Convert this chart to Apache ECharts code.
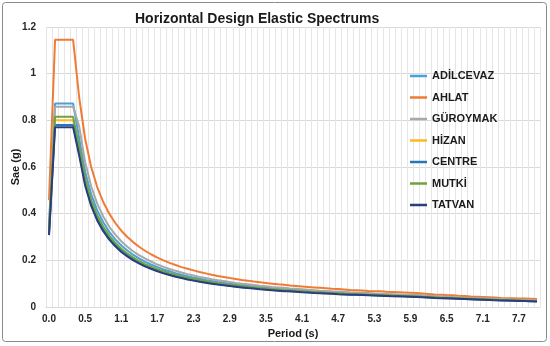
<!DOCTYPE html>
<html>
<head>
<meta charset="utf-8">
<script src="https://cdn.jsdelivr.net/npm/echarts@6.0.0/dist/echarts.min.js"></script>
<style>
html,body{margin:0;padding:0;background:#fff;}
#chart{width:550px;height:346px;}
</style>
</head>
<body>
<div id="chart"></div>
<script>
// Period categories (s)
var periods = ["0.0","0.06","0.1","0.2","0.3","0.4","0.5","0.6","0.7","0.8","0.9","1.0","1.1","1.2","1.3","1.4","1.5","1.6","1.7","1.8","1.9","2.0","2.1","2.2","2.3","2.4","2.5","2.6","2.7","2.8","2.9","3.0","3.1","3.2","3.3","3.4","3.5","3.6","3.7","3.8","3.9","4.0","4.1","4.2","4.3","4.4","4.5","4.6","4.7","4.8","4.9","5.0","5.1","5.2","5.3","5.4","5.5","5.6","5.7","5.8","5.9","6.0","6.1","6.2","6.3","6.4","6.5","6.6","6.7","6.8","6.9","7.0","7.1","7.2","7.3","7.4","7.5","7.6","7.7","7.8","7.9","8.0"];

var seriesNames = ["ADİLCEVAZ","AHLAT","GÜROYMAK","HİZAN","CENTRE","MUTKİ","TATVAN"];
var seriesColors = ["#47A2DA","#F07B35","#A8A8A8","#FDBA1E","#2676B8","#6FA23F","#2A3E7E"];

var adilcevaz = [0.349,0.872,0.872,0.872,0.872,0.725,0.580,0.483,0.414,0.363,0.322,0.290,0.264,0.242,0.223,0.207,0.193,0.181,0.171,0.161,0.153,0.145,0.138,0.132,0.126,0.121,0.116,0.112,0.107,0.104,0.100,0.097,0.094,0.091,0.088,0.085,0.083,0.081,0.078,0.076,0.074,0.073,0.071,0.069,0.067,0.066,0.064,0.063,0.062,0.060,0.059,0.058,0.057,0.056,0.055,0.054,0.053,0.052,0.051,0.050,0.049,0.048,0.047,0.045,0.044,0.042,0.041,0.040,0.039,0.038,0.037,0.036,0.035,0.034,0.033,0.032,0.031,0.030,0.029,0.029,0.028,0.027];
var ahlat = [0.458,1.145,1.145,1.145,1.145,0.900,0.720,0.600,0.514,0.450,0.400,0.360,0.327,0.300,0.277,0.257,0.240,0.225,0.212,0.200,0.189,0.180,0.171,0.164,0.157,0.150,0.144,0.138,0.133,0.129,0.124,0.120,0.116,0.113,0.109,0.106,0.103,0.100,0.097,0.095,0.092,0.090,0.088,0.086,0.084,0.082,0.080,0.078,0.077,0.075,0.073,0.072,0.071,0.069,0.068,0.067,0.065,0.064,0.063,0.062,0.061,0.060,0.058,0.056,0.054,0.053,0.051,0.050,0.048,0.047,0.045,0.044,0.043,0.042,0.041,0.039,0.038,0.037,0.036,0.036,0.035,0.034];
var guroymak = [0.343,0.858,0.858,0.858,0.858,0.775,0.620,0.517,0.443,0.388,0.344,0.310,0.282,0.258,0.238,0.221,0.207,0.194,0.182,0.172,0.163,0.155,0.148,0.141,0.135,0.129,0.124,0.119,0.115,0.111,0.107,0.103,0.100,0.097,0.094,0.091,0.089,0.086,0.084,0.082,0.079,0.078,0.076,0.074,0.072,0.070,0.069,0.067,0.066,0.065,0.063,0.062,0.061,0.060,0.058,0.057,0.056,0.055,0.054,0.053,0.053,0.052,0.050,0.048,0.047,0.045,0.044,0.043,0.041,0.040,0.039,0.038,0.037,0.036,0.035,0.034,0.033,0.032,0.031,0.031,0.030,0.029];
var hizan = [0.320,0.800,0.800,0.800,0.800,0.675,0.540,0.450,0.386,0.338,0.300,0.270,0.245,0.225,0.208,0.193,0.180,0.169,0.159,0.150,0.142,0.135,0.129,0.123,0.117,0.113,0.108,0.104,0.100,0.096,0.093,0.090,0.087,0.084,0.082,0.079,0.077,0.075,0.073,0.071,0.069,0.068,0.066,0.064,0.063,0.061,0.060,0.059,0.057,0.056,0.055,0.054,0.053,0.052,0.051,0.050,0.049,0.048,0.047,0.047,0.046,0.045,0.044,0.042,0.041,0.040,0.038,0.037,0.036,0.035,0.034,0.033,0.032,0.031,0.030,0.030,0.029,0.028,0.027,0.027,0.026,0.025];
var centre = [0.312,0.780,0.780,0.780,0.780,0.663,0.530,0.442,0.379,0.331,0.294,0.265,0.241,0.221,0.204,0.189,0.177,0.166,0.156,0.147,0.139,0.133,0.126,0.120,0.115,0.110,0.106,0.102,0.098,0.095,0.091,0.088,0.085,0.083,0.080,0.078,0.076,0.074,0.072,0.070,0.068,0.066,0.065,0.063,0.062,0.060,0.059,0.058,0.056,0.055,0.054,0.053,0.052,0.051,0.050,0.049,0.048,0.047,0.046,0.046,0.045,0.044,0.043,0.041,0.040,0.039,0.038,0.037,0.035,0.034,0.033,0.032,0.032,0.031,0.030,0.029,0.028,0.028,0.027,0.026,0.025,0.025];
var mutki = [0.326,0.815,0.815,0.815,0.815,0.688,0.550,0.458,0.393,0.344,0.306,0.275,0.250,0.229,0.212,0.196,0.183,0.172,0.162,0.153,0.145,0.138,0.131,0.125,0.120,0.115,0.110,0.106,0.102,0.098,0.095,0.092,0.089,0.086,0.083,0.081,0.079,0.076,0.074,0.072,0.071,0.069,0.067,0.065,0.064,0.063,0.061,0.060,0.059,0.057,0.056,0.055,0.054,0.053,0.052,0.051,0.050,0.049,0.048,0.047,0.047,0.046,0.044,0.043,0.042,0.040,0.039,0.038,0.037,0.036,0.035,0.034,0.033,0.032,0.031,0.030,0.029,0.029,0.028,0.027,0.026,0.026];
var tatvan = [0.308,0.770,0.770,0.770,0.770,0.650,0.520,0.433,0.371,0.325,0.289,0.260,0.236,0.217,0.200,0.186,0.173,0.163,0.153,0.144,0.137,0.130,0.124,0.118,0.113,0.108,0.104,0.100,0.096,0.093,0.090,0.087,0.084,0.081,0.079,0.076,0.074,0.072,0.070,0.068,0.067,0.065,0.063,0.062,0.060,0.059,0.058,0.057,0.055,0.054,0.053,0.052,0.051,0.050,0.049,0.048,0.047,0.046,0.046,0.045,0.044,0.043,0.042,0.041,0.039,0.038,0.037,0.036,0.035,0.034,0.033,0.032,0.031,0.030,0.029,0.028,0.028,0.027,0.026,0.026,0.025,0.024];

var allValues = [adilcevaz, ahlat, guroymak, hizan, centre, mutki, tatvan];

var FONT = "'Liberation Sans', Arial, sans-serif";
var chart = echarts.init(document.getElementById('chart'), null, {renderer: 'canvas'});

var series = seriesNames.map(function (n, i) {
  return {
    name: n,
    type: 'line',
    data: allValues[i],
    symbol: 'none',
    smooth: false,
    lineStyle: {width: 2, color: seriesColors[i]},
    itemStyle: {color: seriesColors[i]},
    z: 2 + i
  };
});

chart.setOption({
  animation: false,
  backgroundColor: '#ffffff',
  title: {
    text: 'Horizontal Design Elastic Spectrums',
    left: 130,
    top: 7,
    textStyle: {fontFamily: FONT, fontSize: 14, fontWeight: 'bold', color: '#1a1a1a'}
  },
  graphic: [{
    type: 'rect',
    shape: {x: 2.5, y: 2.5, width: 544, height: 339, r: 3},
    style: {fill: 'none', stroke: '#8a8a8a', lineWidth: 1},
    silent: true,
    z: 100
  }],
  legend: {
    orient: 'vertical',
    left: 405,
    top: 64,
    icon: 'rect',
    itemWidth: 17,
    itemHeight: 2.5,
    itemGap: 7.5,
    textStyle: {fontFamily: FONT, fontSize: 11, fontWeight: 'bold', color: '#1a1a1a', lineHeight: 14},
    data: seriesNames
  },
  grid: {left: 46, right: 10, top: 27, bottom: 39, containLabel: false, outerBoundsMode: 'none'},
  xAxis: {
    type: 'category',
    data: periods,
    boundaryGap: true,
    name: 'Period (s)',
    nameLocation: 'middle',
    nameGap: 21,
    nameMoveOverlap: false,
    nameTextStyle: {fontFamily: FONT, fontSize: 11, fontWeight: 'bold', color: '#1a1a1a'},
    axisLine: {show: true, lineStyle: {color: '#d9d9d9'}},
    axisTick: {show: false},
    axisLabel: {interval: 5, fontFamily: FONT, fontSize: 10, fontWeight: 'bold', color: '#262626', margin: 7},
    splitLine: {show: true, interval: 0, lineStyle: {color: '#e6e6e6', width: 1}}
  },
  yAxis: {
    type: 'value',
    min: 0,
    max: 1.2,
    interval: 0.2,
    name: 'Sae (g)',
    nameLocation: 'middle',
    nameGap: 25,
    nameRotate: 90,
    nameMoveOverlap: false,
    nameTextStyle: {fontFamily: FONT, fontSize: 11, fontWeight: 'bold', color: '#1a1a1a'},
    axisLine: {show: false},
    axisTick: {show: false},
    axisLabel: {fontFamily: FONT, fontSize: 10, fontWeight: 'bold', color: '#262626', margin: 10,
      formatter: function (v) { return String(Math.round(v * 10) / 10); }},
    splitLine: {show: true, lineStyle: {color: '#d9d9d9', width: 1}}
  },
  series: series
});
</script>
</body>
</html>
